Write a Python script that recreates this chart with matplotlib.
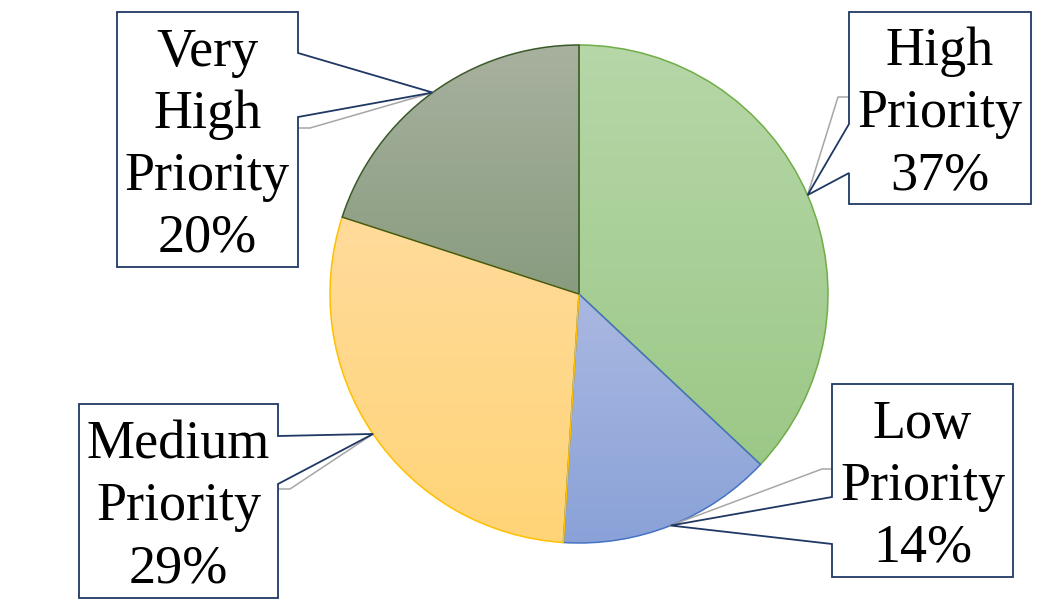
import numpy as np
import matplotlib
matplotlib.use("Agg")
import matplotlib.pyplot as plt
from matplotlib.colors import to_rgb
from matplotlib.patches import Polygon

# --- data ---
labels = ["High\nPriority\n37%", "Low\nPriority\n14%", "Medium\nPriority\n29%", "Very\nHigh\nPriority\n20%"]
values = [37, 14, 29, 20]
top_colors = ["#b6d7a8", "#aab8e1", "#ffdb9b", "#a8b19f"]
bottom_colors = ["#9cc887", "#8aa2d8", "#ffd477", "#889c7f"]
edge_colors = ["#70ad47", "#4472c4", "#ffc000", "#3b5a2a"]

# callout boxes in image pixels: (left, top, right, bottom), side of the notch, notch span, elbow of grey leader
boxes = [(849, 12, 1031, 204), (832, 384, 1013, 577), (79, 404, 278, 598), (117, 12, 298, 267)]
sides = ["left", "left", "right", "right"]
notches = [(124, 173), (497, 544), (436, 484), (53, 117)]
elbows = [(838, 97), (822, 469), (290, 489), (310, 128)]

W, H = 1052, 604
fig = plt.figure(figsize=(W / 100, H / 100), dpi=100)
ax = fig.add_axes([0, 0, 1, 1])

cx, cy, r = 579, H - 294, 249

def flip(p):
    return (p[0], H - p[1])

wedges, _ = ax.pie(values, center=(cx, cy), radius=r, startangle=90, counterclock=False,
                   wedgeprops=dict(linewidth=1.1), frame=True)

# vertical gradient fill per slice, clipped to the wedge
for w, tc, bc, ec in zip(wedges, top_colors, bottom_colors, edge_colors):
    w.set_facecolor("none")
    w.set_edgecolor(ec)
    w.set_zorder(3)
    ext = w.get_path().get_extents(w.get_patch_transform())
    grad = np.linspace(0, 1, 256)[:, None, None]
    img = (1 - grad) * np.array(to_rgb(tc)) + grad * np.array(to_rgb(bc))
    im = ax.imshow(img, extent=(ext.x0, ext.x1, ext.y0, ext.y1), origin="upper",
                   aspect="auto", zorder=2, interpolation="bilinear")
    im.set_clip_path(w)

ax.set_xlim(0, W)
ax.set_ylim(0, H)
ax.axis("off")

for w, lab, box, side, notch, elbow in zip(wedges, labels, boxes, sides, notches, elbows):
    mid = np.deg2rad((w.theta1 + w.theta2) / 2)
    tip = (cx + r * np.cos(mid), cy + r * np.sin(mid))
    x0, y0, x1, y1 = box
    na, nb = notch
    if side == "left":
        pts = [(x0, y0), (x0, na), None, (x0, nb), (x0, y1), (x1, y1), (x1, y0)]
        edge_x = x0
    else:
        pts = [(x0, y0), (x1, y0), (x1, na), None, (x1, nb), (x1, y1), (x0, y1)]
        edge_x = x1
    poly = [tip if p is None else flip(p) for p in pts]
    ex, ey = flip(elbow)
    ax.plot([tip[0], ex, edge_x], [tip[1], ey, ey], color="#a6a6a6", lw=1.1, zorder=4)
    ax.add_patch(Polygon(poly, closed=True, facecolor="white", edgecolor="#1f3864",
                         lw=1.3, zorder=5, joinstyle="miter"))
    ax.text((x0 + x1) / 2, H - (y0 + y1) / 2 - 6, lab, ha="center", va="center",
            fontsize=39, family="Liberation Serif", linespacing=1.3, zorder=6)

fig.savefig("out.png", dpi=100)
